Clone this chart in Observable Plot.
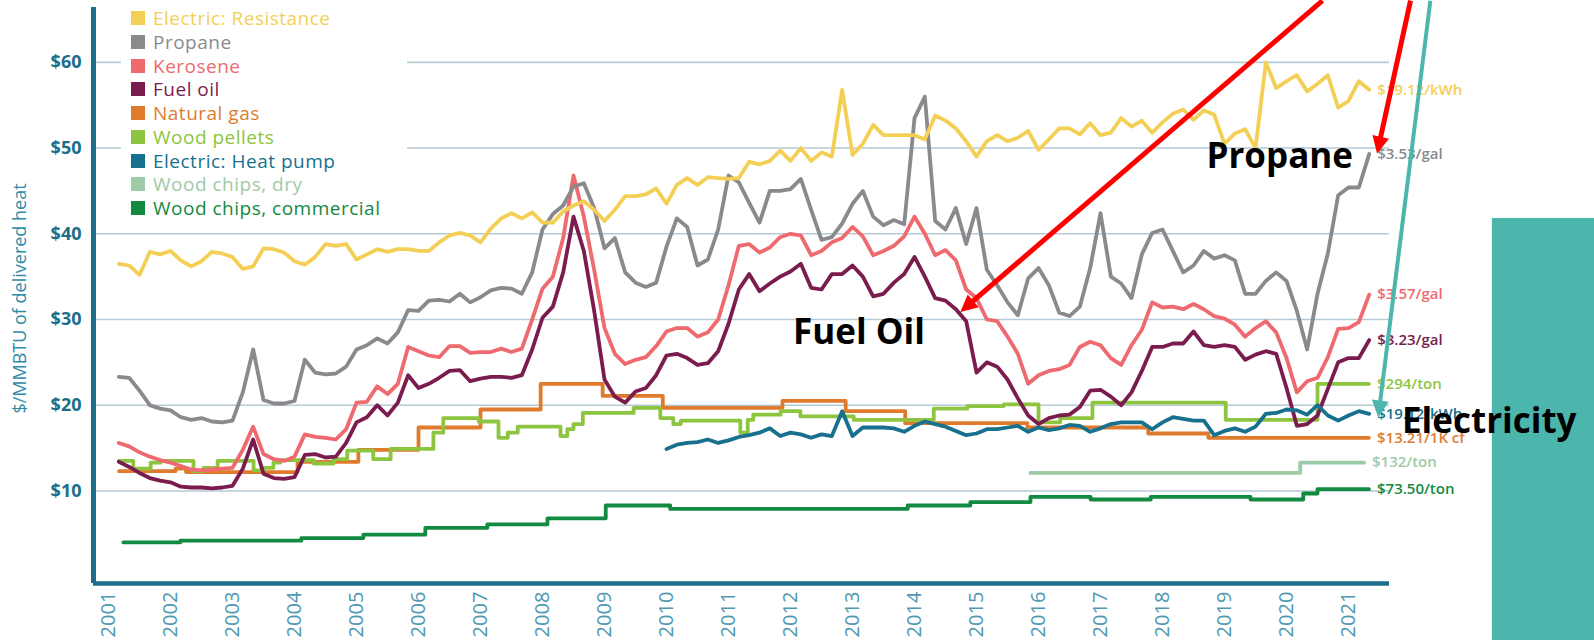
<!DOCTYPE html>
<html><head><meta charset="utf-8">
<script src="https://cdn.jsdelivr.net/npm/d3@7"></script>
<script src="https://cdn.jsdelivr.net/npm/@observablehq/plot@0.6"></script>
<style>
html,body{margin:0;padding:0;background:#fff;}
#wrap{position:relative;width:1594px;height:640px;overflow:hidden;font-family:"Open Sans",sans-serif;}
#wrap svg{position:absolute;left:0;top:0;}
#legend{position:absolute;left:121px;top:0;width:286px;height:222px;background:#fff;}
.row{position:absolute;left:10px;height:24px;display:flex;align-items:center;font-size:19px;font-weight:500;letter-spacing:0.5px;white-space:nowrap;}
.sw{width:14px;height:14px;margin-right:8px;flex:none;}
</style></head><body><div id="wrap"></div>
<script>
// ---- readings: bi-monthly from Mar 2001 ($/MMBTU of delivered heat) ----
const startYear = 2001, startMonth = 3, stepMonths = 2;

const resistance = [
 36.5,36.3,35.2,37.9,37.6,38.0,36.9,36.2,36.8,37.9,
 37.7,37.3,35.9,36.2,38.3,38.2,37.8,36.8,36.4,37.3,
 38.8,38.6,38.8,37.0,37.6,38.2,37.9,38.2,38.2,38.0,
 38.0,39.0,39.8,40.1,39.8,39.0,40.6,41.8,42.4,41.8,
 42.5,41.3,41.3,42.6,43.3,43.8,42.8,41.5,42.8,44.4,
 44.4,44.6,45.3,43.5,45.7,46.5,45.7,46.6,46.5,46.4,
 46.5,48.4,48.1,48.5,49.7,48.5,50.0,48.5,49.5,49.0,
 56.8,49.2,50.5,52.7,51.5,51.5,51.5,51.5,51.0,53.8,
 53.2,52.3,50.8,49.0,50.8,51.5,50.8,51.2,52.0,49.8,
 51.0,52.3,52.3,51.6,52.9,51.5,51.8,53.5,52.5,53.2,
 51.8,53.0,54.0,54.5,53.3,54.4,53.9,50.5,51.7,52.2,
 50.0,60.0,57.0,57.8,58.5,56.6,57.5,58.5,54.7,55.5,
 57.8,56.8];

const propane = [
 23.3,23.2,21.7,20.0,19.6,19.4,18.6,18.3,18.5,18.1,
 18.0,18.2,21.5,26.5,20.6,20.2,20.2,20.5,25.3,23.8,
 23.6,23.7,24.5,26.5,27.0,27.8,27.2,28.5,31.1,31.0,
 32.2,32.3,32.1,33.0,32.0,32.6,33.4,33.7,33.6,33.0,
 35.5,40.5,42.3,43.3,45.5,45.9,43.0,38.3,39.5,35.5,
 34.3,33.8,34.3,38.5,41.8,40.8,36.3,37.0,40.5,46.8,
 46.0,43.6,41.3,45.0,45.0,45.2,46.4,42.8,39.3,39.6,
 41.2,43.5,45.0,42.0,41.0,41.6,41.1,53.5,56.0,41.5,
 40.5,43.0,38.8,43.0,35.8,34.0,32.0,30.5,34.8,36.0,
 34.0,30.8,30.4,31.5,36.0,42.4,35.0,34.2,32.5,37.6,
 40.1,40.5,38.0,35.5,36.3,38.0,37.1,37.5,36.9,33.0,
 33.0,34.5,35.5,34.5,31.0,26.5,33.0,37.7,44.5,45.4,
 45.4,49.3];

const kerosene = [
 15.6,15.2,14.5,14.0,13.6,13.3,12.9,12.5,12.4,12.5,
 12.6,12.7,14.8,17.5,14.3,13.7,13.5,14.0,16.6,16.3,
 16.2,16.0,17.2,20.3,20.4,22.2,21.3,22.5,26.8,26.3,
 25.8,25.6,26.9,26.9,26.1,26.2,26.2,26.6,26.2,26.6,
 30.0,33.6,35.0,39.5,46.8,42.0,35.8,29.0,26.0,24.8,
 25.3,25.6,26.9,28.6,29.0,29.0,28.0,28.5,30.0,34.0,
 38.6,38.8,37.8,38.4,39.6,40.0,39.8,37.5,38.0,39.0,
 39.5,40.8,39.7,37.5,38.0,38.6,39.7,42.0,40.0,37.5,
 38.1,36.9,33.5,32.5,30.0,29.8,28.0,26.0,22.5,23.5,
 24.0,24.2,24.7,26.8,27.4,27.0,25.5,24.7,27.0,28.8,
 32.0,31.4,31.5,31.2,31.8,31.2,30.4,30.1,29.4,28.0,
 29.0,29.8,28.5,25.5,21.5,22.8,23.2,25.6,28.9,29.0,
 29.7,32.9];

const fuelOil = [
 13.4,12.8,12.1,11.5,11.2,11.0,10.5,10.4,10.4,10.3,
 10.4,10.6,12.6,16.0,12.0,11.5,11.4,11.6,14.2,14.3,
 13.9,14.0,15.6,18.0,18.6,20.0,18.8,20.3,23.5,22.0,
 22.5,23.2,24.0,24.1,22.8,23.1,23.3,23.3,23.2,23.5,
 26.5,30.2,31.5,35.5,42.0,38.0,31.0,23.0,21.0,20.3,
 21.6,22.0,23.5,25.8,26.0,25.5,24.7,24.9,26.3,29.5,
 33.5,35.3,33.3,34.2,35.0,35.6,36.5,33.7,33.5,35.3,
 35.3,36.3,35.0,32.7,33.0,34.3,35.3,37.3,35.0,32.5,
 32.2,31.2,29.8,23.8,25.0,24.5,23.0,20.8,18.8,17.8,
 18.5,18.8,18.9,19.8,21.7,21.8,21.0,20.0,21.5,24.0,
 26.8,26.8,27.2,27.2,28.6,27.0,26.8,27.0,26.8,25.3,
 25.9,26.3,26.0,22.0,17.6,17.8,18.8,21.9,25.0,25.5,
 25.5,27.6];

const heatPumpStart = 53; // first reading: Jan 2010
const heatPump = [
 14.9,15.4,15.6,15.7,16.0,15.6,15.9,
 16.3,16.5,16.8,17.3,16.4,16.8,16.6,16.2,16.6,16.4,
 19.3,16.4,17.4,17.4,17.4,17.3,16.9,17.6,18.1,17.8,
 17.5,17.0,16.5,16.7,17.2,17.2,17.4,17.6,16.9,17.4,
 17.1,17.3,17.7,17.6,16.9,17.3,17.8,18.0,18.0,18.0,
 17.2,18.0,18.6,18.4,18.2,18.2,16.5,17.0,17.3,16.9,
 17.5,19.0,19.1,19.5,19.4,18.9,20.0,18.8,18.2,18.8,
 19.3,19.0];

// step series: price changes (decimal year, value)
const gasDates  = [2001.17,2002.08,2002.25,2004.05,2005.03,2006.0,2007.0,2007.97,2008.97,2009.94,2011.87,2012.89,2013.85,2015.82,2017.77,2018.74,2021.33];
const gasValues = [12.3,12.6,12.2,13.4,14.8,17.4,19.5,22.5,21.1,19.7,20.5,19.3,17.9,17.4,16.7,16.2,16.2];

const pelletDates  = [2001.17,2001.40,2001.68,2001.84,2002.37,2002.53,2002.76,2003.34,2003.50,2003.66,2003.77,2004.31,2004.63,2004.85,2005.27,2005.55,2006.24,2006.40,2006.97,2007.29,2007.44,2007.60,2008.29,2008.40,2008.50,2008.65,2009.47,2009.90,2010.11,2010.23,2011.19,2011.31,2011.40,2011.84,2012.16,2013.02,2014.31,2014.85,2015.44,2016.0,2016.35,2016.87,2019.02,2020.5,2021.33];
const pelletValues = [13.5,12.6,13.3,13.5,12.3,12.7,13.5,12.4,12.7,13.3,13.6,13.2,13.7,14.7,13.7,14.9,16.8,18.5,18.1,16.2,16.8,17.5,16.4,17.2,17.8,19.1,19.7,18.5,17.8,18.2,16.8,18.3,18.9,19.3,18.7,18.3,19.6,19.9,20.1,18.0,18.5,20.3,18.3,22.5,22.5];

const dryChipDates  = [2015.87,2020.22,2021.25];
const dryChipValues = [12.1,13.3,13.3];

const chipDates  = [2001.24,2002.16,2004.11,2005.11,2006.11,2007.11,2008.08,2009.02,2010.06,2013.89,2014.9,2015.87,2016.84,2017.81,2019.42,2020.27,2020.5,2021.33];
const chipValues = [4.0,4.2,4.5,4.9,5.7,6.1,6.8,8.3,7.9,8.3,8.7,9.3,9.0,9.3,9.0,9.7,10.2,10.2];

const seriesNames  = ["Electric: Resistance","Propane","Kerosene","Fuel oil","Natural gas","Wood pellets","Electric: Heat pump","Wood chips, dry","Wood chips, commercial"];
const seriesColors = ["#f4cf55","#8a8a8c","#ee6a6e","#7a1c4e","#e07b2e","#8dc540","#17708d","#9dcaa7","#138a41"];
const endLabels    = ["$19.12/kWh","$3.53/gal","$3.57/gal","$3.23/gal","$13.21/1K cf","$294/ton","$19.12/kWh","$132/ton","$73.50/ton"];

const yTicks = [10,20,30,40,50,60];
const years = d3.range(2001, 2022);
const yTitle = "$/MMBTU of delivered heat";

// call-outs drawn over the chart
const arrowFromX = [2020.58, 2022.0, 2022.32];
const arrowFromY = [67.2, 67.2, 67.2];
const arrowToX   = [2014.935, 2021.516, 2021.511];
const arrowToY   = [32.1, 51.2, 20.42];
const arrowColor = ["#ff0000", "#ff0000", "#4db6ac"];
const noteText = ["Propane", "Fuel Oil", "Electricity"];
const noteX = [2019.89, 2013.105, 2023.27];
const noteY = [49.0, 28.5, 18.1];
const panel = {x1: 2023.32, x2: 2026, y1: -9, y2: 41.79, color: "#4db6ac"};

// ---- build ----
const dateAt = i => startYear + (startMonth - 1 + stepMonths * i) / 12;
const uniform = (vals, off = 0) => vals.map((v, k) => ({x: dateAt(k + off), y: v}));
const steps = (ds, vs) => ds.map((d, k) => ({x: d, y: vs[k]}));
const seriesData = [
  uniform(resistance), uniform(propane), uniform(kerosene), uniform(fuelOil),
  steps(gasDates, gasValues), steps(pelletDates, pelletValues),
  uniform(heatPump, heatPumpStart), steps(dryChipDates, dryChipValues), steps(chipDates, chipValues)
];
const curves = ["linear","linear","linear","linear","step-after","step-after","linear","step-after","step-after"];
const drawOrder = [8,7,4,5,2,1,3,6,0];
const ends = seriesData.map((s, k) => ({x: s[s.length-1].x, y: s[s.length-1].y, t: endLabels[k], c: seriesColors[k]}));
const arrows = arrowFromX.map((_, k) => ({x1: arrowFromX[k], y1: arrowFromY[k], x2: arrowToX[k], y2: arrowToY[k], c: arrowColor[k]}));
const notes = noteText.map((t, k) => ({t, x: noteX[k], y: noteY[k]}));

const xDomain = [2000.758, 2021.661], yDomain = [-0.8, 66.4];
const axisColor = "#1c6e8a";

function filledHead(color) {
  const ns = "http://www.w3.org/2000/svg";
  const m = document.createElementNS(ns, "marker");
  m.setAttribute("viewBox", "-2 -10 22 20");
  m.setAttribute("markerWidth", 22); m.setAttribute("markerHeight", 20);
  m.setAttribute("markerUnits", "userSpaceOnUse");
  m.setAttribute("refX", 0); m.setAttribute("refY", 0);
  m.setAttribute("orient", "auto");
  const p = document.createElementNS(ns, "path");
  p.setAttribute("d", "M-1,-8.5L16,0L-1,8.5Z");
  p.setAttribute("fill", color); p.setAttribute("stroke", "none");
  m.appendChild(p);
  return m;
}

function build(useMarker) {
  const arrowMarks = ["#ff0000", "#4db6ac"].map(col => {
    const data = arrows.filter(a => a.c === col);
    return useMarker
      ? Plot.link(data, {x1: "x1", y1: "y1", x2: "x2", y2: "y2", stroke: col, strokeWidth: col === "#ff0000" ? 5 : 4, markerEnd: filledHead})
      : Plot.arrow(data, {x1: "x1", y1: "y1", x2: "x2", y2: "y2", stroke: col, strokeWidth: 5, headLength: 16});
  });
  return Plot.plot({
    width: 1594, height: 640,
    marginLeft: 93, marginRight: 205, marginTop: 7, marginBottom: 57,
    x: {domain: xDomain, axis: null},
    y: {domain: yDomain, axis: null},
    color: {type: "identity"},
    style: {background: "transparent", fontFamily: "'Open Sans', sans-serif", overflow: "visible"},
    marks: [
      Plot.ruleY(yTicks, {stroke: "#b6cad5", strokeWidth: 1.6}),
      Plot.rect([panel], {x1: "x1", x2: "x2", y1: "y1", y2: "y2", fill: "color"}),
      ...drawOrder.map(k => Plot.line(seriesData[k], {x: "x", y: "y", stroke: seriesColors[k], strokeWidth: 3.8, curve: curves[k], strokeLinejoin: "round"})),
      Plot.ruleX([xDomain[0]], {stroke: axisColor, strokeWidth: 5}),
      Plot.ruleY([yDomain[0]], {stroke: axisColor, strokeWidth: 4.5}),
      Plot.text(yTicks, {y: d => d, frameAnchor: "left", dx: -12, text: d => "$" + d, textAnchor: "end", fill: axisColor, fontSize: 18, fontWeight: 700}),
      Plot.text(years, {x: d => d, frameAnchor: "bottom", dy: 31, rotate: -90, text: d => String(d), textAnchor: "middle", lineAnchor: "middle", fill: "#4f98b1", fontSize: 20, fontWeight: 400, letterSpacing: "0.5px"}),
      Plot.text([yTitle], {frameAnchor: "left", dx: -73, dy: 3, rotate: -90, text: d => d, textAnchor: "middle", lineAnchor: "middle", fill: "#2e8ba5", fontSize: 18}),
      Plot.text(ends, {x: "x", y: "y", text: "t", fill: "c", dx: 8, textAnchor: "start", fontSize: 15, fontWeight: 600}),
      ...arrowMarks,
      Plot.text(notes, {x: "x", y: "y", text: "t", fill: "#000", fontSize: 35, fontWeight: 700, textAnchor: "middle"})
    ]
  });
}

let chart;
try { chart = build(true); } catch (e) { chart = build(false); }
const wrap = document.getElementById("wrap");
wrap.appendChild(chart);

// legend (drawn above the plot, white box hides grid)
const legend = document.createElement("div");
legend.id = "legend";
seriesNames.forEach((name, k) => {
  const row = document.createElement("div");
  row.className = "row";
  row.style.top = (6 + 23.75 * k) + "px";
  row.style.color = seriesColors[k];
  const sw = document.createElement("span");
  sw.className = "sw"; sw.style.background = seriesColors[k];
  row.appendChild(sw);
  row.appendChild(document.createTextNode(name));
  legend.appendChild(row);
});
wrap.appendChild(legend);
</script></body></html>
